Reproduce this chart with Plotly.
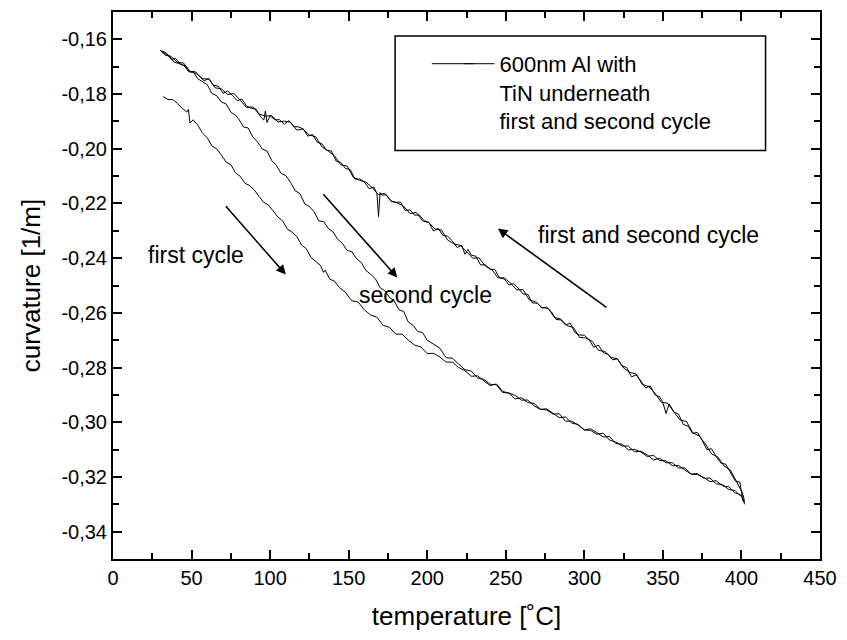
import plotly.graph_objects as go

# Temperature [°C] and curvature [1/m] for each branch of the thermal cycles

# first heating (lower branch on the way up)
heat1_t = [32, 35, 38, 41, 44, 47, 48, 49, 51, 54, 57, 60, 63, 66, 69, 72, 75, 78, 81, 84,
           87, 90, 93, 96, 99, 102, 105, 108, 111, 114, 117, 120, 123, 126, 129, 132, 134,
           135, 138, 141, 144, 148, 152, 156, 160, 164, 168, 172, 176, 180, 184, 188, 192,
           196, 200, 204, 208, 212, 216, 220, 224, 228, 232, 236, 240, 244, 248, 252, 256,
           260, 264, 268, 272, 276, 280, 284, 288, 292, 296, 300, 304, 308, 312, 316, 320,
           324, 328, 332, 336, 340, 344, 348, 352, 356, 360, 364, 368, 372, 376, 380, 384,
           388, 392, 396, 399, 401, 402]
heat1_c = [-0.1809, -0.1820, -0.1820, -0.1834, -0.1852, -0.1866, -0.1856, -0.1906, -0.1894,
           -0.1914, -0.1943, -0.1960, -0.1990, -0.2000, -0.2023, -0.2049, -0.2058, -0.2088,
           -0.2101, -0.2126, -0.2135, -0.2151, -0.2175, -0.2196, -0.2206, -0.2229, -0.2250,
           -0.2264, -0.2294, -0.2305, -0.2321, -0.2352, -0.2365, -0.2397, -0.2410, -0.2426,
           -0.2452, -0.2444, -0.2477, -0.2484, -0.2507, -0.2525, -0.2556, -0.2560, -0.2589,
           -0.2608, -0.2616, -0.2646, -0.2653, -0.2678, -0.2678, -0.2700, -0.2718, -0.2725,
           -0.2749, -0.2748, -0.2761, -0.2780, -0.2780, -0.2800, -0.2811, -0.2832, -0.2830,
           -0.2847, -0.2866, -0.2860, -0.2887, -0.2894, -0.2915, -0.2910, -0.2928, -0.2931,
           -0.2952, -0.2955, -0.2970, -0.2969, -0.2996, -0.2996, -0.3010, -0.3028, -0.3024,
           -0.3038, -0.3054, -0.3052, -0.3078, -0.3080, -0.3101, -0.3099, -0.3109, -0.3125,
           -0.3121, -0.3140, -0.3141, -0.3159, -0.3158, -0.3175, -0.3189, -0.3188, -0.3205,
           -0.3204, -0.3225, -0.3228, -0.3246, -0.3250, -0.3268, -0.3265, -0.3292]

# first cooling (upper branch on the way down)
cool1_t = [401, 399, 396, 393, 390, 387, 384, 381, 378, 375, 372, 369, 366, 363, 360, 357,
           354, 352, 350, 348, 345, 342, 339, 336, 333, 330, 327, 324, 321, 318, 315, 312,
           309, 306, 303, 300, 297, 294, 291, 288, 285, 282, 279, 276, 273, 270, 267, 264,
           261, 258, 255, 252, 249, 246, 243, 240, 237, 234, 231, 228, 226, 224, 222, 219,
           216, 213, 210, 207, 204, 201, 198, 195, 192, 189, 186, 183, 180, 177, 174, 171,
           170, 169, 168, 166, 163, 160, 157, 154, 151, 148, 145, 142, 139, 136, 133, 130,
           127, 124, 121, 118, 115, 112, 109, 106, 103, 100, 98, 97, 96, 94, 91, 88, 85, 82,
           79, 76, 73, 70, 67, 64, 61, 58, 55, 52, 49, 46, 43, 40, 37, 34, 31]
cool1_c = [-0.3290, -0.3219, -0.3214, -0.3182, -0.3153, -0.3150, -0.3126, -0.3097, -0.3100,
           -0.3066, -0.3037, -0.3041, -0.3014, -0.3008, -0.2971, -0.2962, -0.2933, -0.2968,
           -0.2928, -0.2907, -0.2900, -0.2867, -0.2875, -0.2849, -0.2827, -0.2834, -0.2800,
           -0.2794, -0.2768, -0.2772, -0.2752, -0.2745, -0.2718, -0.2726, -0.2698, -0.2682,
           -0.2681, -0.2672, -0.2638, -0.2644, -0.2626, -0.2624, -0.2596, -0.2579, -0.2583,
           -0.2564, -0.2564, -0.2532, -0.2531, -0.2510, -0.2493, -0.2498, -0.2476, -0.2472,
           -0.2441, -0.2442, -0.2424, -0.2425, -0.2393, -0.2389, -0.2368, -0.2386, -0.2353,
           -0.2361, -0.2337, -0.2320, -0.2317, -0.2291, -0.2301, -0.2269, -0.2263, -0.2242,
           -0.2243, -0.2224, -0.2225, -0.2195, -0.2196, -0.2192, -0.2169, -0.2169, -0.2160,
           -0.2248, -0.2165, -0.2140, -0.2146, -0.2121, -0.2111, -0.2111, -0.2076, -0.2072,
           -0.2050, -0.2045, -0.2008, -0.2006, -0.1982, -0.1976, -0.1948, -0.1954, -0.1927,
           -0.1920, -0.1919, -0.1897, -0.1910, -0.1894, -0.1894, -0.1879, -0.1904, -0.1862,
           -0.1895, -0.1884, -0.1855, -0.1852, -0.1844, -0.1818, -0.1824, -0.1805, -0.1789,
           -0.1797, -0.1771, -0.1768, -0.1743, -0.1752, -0.1732, -0.1716, -0.1721, -0.1696,
           -0.1692, -0.1670, -0.1673, -0.1650, -0.1642]

# second heating (middle branch on the way up)
heat2_t = [30, 33, 36, 39, 42, 45, 48, 51, 54, 57, 60, 63, 66, 69, 72, 75, 78, 80, 83, 86,
           89, 92, 95, 98, 101, 104, 107, 110, 113, 116, 119, 122, 125, 128, 131, 134, 137,
           140, 143, 146, 149, 152, 155, 158, 161, 164, 167, 170, 173, 176, 179, 182, 185,
           188, 191, 194, 197, 200, 204, 208, 212, 216, 220, 224, 228, 232, 236, 240, 244,
           248, 252, 256, 260, 264, 268, 272, 276, 280, 284, 288, 292, 296, 300, 304, 308,
           312, 316, 320, 324, 328, 332, 336, 340, 344, 348, 352, 356, 360, 364, 368, 372,
           376, 380, 384, 388, 392, 396, 399, 401, 402]
heat2_c = [-0.1640, -0.1657, -0.1662, -0.1684, -0.1688, -0.1695, -0.1717, -0.1718, -0.1744,
           -0.1755, -0.1766, -0.1798, -0.1806, -0.1829, -0.1836, -0.1866, -0.1878, -0.1891,
           -0.1920, -0.1924, -0.1957, -0.1975, -0.2001, -0.2008, -0.2043, -0.2061, -0.2090,
           -0.2098, -0.2123, -0.2154, -0.2164, -0.2201, -0.2211, -0.2230, -0.2264, -0.2266,
           -0.2291, -0.2304, -0.2331, -0.2346, -0.2372, -0.2376, -0.2402, -0.2416, -0.2445,
           -0.2459, -0.2475, -0.2508, -0.2519, -0.2544, -0.2556, -0.2589, -0.2595, -0.2634,
           -0.2646, -0.2668, -0.2672, -0.2700, -0.2715, -0.2729, -0.2764, -0.2766, -0.2787,
           -0.2808, -0.2813, -0.2838, -0.2843, -0.2861, -0.2863, -0.2891, -0.2893, -0.2902,
           -0.2919, -0.2919, -0.2940, -0.2953, -0.2951, -0.2967, -0.2983, -0.2981, -0.3003,
           -0.3008, -0.3028, -0.3030, -0.3044, -0.3040, -0.3065, -0.3072, -0.3087, -0.3087,
           -0.3108, -0.3106, -0.3119, -0.3138, -0.3132, -0.3148, -0.3148, -0.3167, -0.3167,
           -0.3191, -0.3191, -0.3202, -0.3217, -0.3214, -0.3233, -0.3236, -0.3259, -0.3264,
           -0.3280, -0.3300]

# second cooling (upper branch again)
cool2_t = [401, 397, 393, 389, 385, 381, 377, 373, 369, 365, 361, 357, 353, 349, 345, 341,
           337, 333, 329, 325, 321, 317, 313, 309, 305, 301, 297, 293, 289, 285, 281, 277,
           273, 269, 265, 261, 257, 253, 249, 245, 241, 237, 233, 229, 225, 221, 217, 213,
           209, 205, 201, 197, 193, 189, 185, 181, 177, 173, 169, 165, 161, 157, 153, 149,
           145, 141, 137, 133, 129, 125, 121, 117, 113, 109, 105, 101, 97, 93, 89, 85, 81,
           77, 73, 69, 65, 61, 57, 53, 49, 45, 41, 37, 33, 30]
cool2_c = [-0.3262, -0.3219, -0.3175, -0.3160, -0.3127, -0.3116, -0.3079, -0.3050, -0.3038,
           -0.2997, -0.2992, -0.2962, -0.2930, -0.2927, -0.2894, -0.2869, -0.2863, -0.2823,
           -0.2818, -0.2802, -0.2768, -0.2763, -0.2741, -0.2737, -0.2704, -0.2692, -0.2690,
           -0.2653, -0.2647, -0.2623, -0.2617, -0.2584, -0.2580, -0.2560, -0.2553, -0.2515,
           -0.2516, -0.2491, -0.2472, -0.2472, -0.2441, -0.2429, -0.2399, -0.2400, -0.2376,
           -0.2353, -0.2348, -0.2334, -0.2297, -0.2294, -0.2270, -0.2264, -0.2233, -0.2237,
           -0.2210, -0.2198, -0.2191, -0.2163, -0.2168, -0.2142, -0.2122, -0.2115, -0.2105,
           -0.2063, -0.2059, -0.2026, -0.2008, -0.1993, -0.1956, -0.1950, -0.1928, -0.1932,
           -0.1903, -0.1899, -0.1902, -0.1879, -0.1881, -0.1873, -0.1847, -0.1849, -0.1823,
           -0.1798, -0.1802, -0.1781, -0.1777, -0.1745, -0.1744, -0.1725, -0.1717, -0.1687,
           -0.1684, -0.1663, -0.1652, -0.1640]

y_tickvals = [-0.34, -0.32, -0.30, -0.28, -0.26, -0.24, -0.22, -0.20, -0.18, -0.16]
y_ticktext = ["-0,34", "-0,32", "-0,30", "-0,28", "-0,26", "-0,24", "-0,22", "-0,20",
              "-0,18", "-0,16"]

legend_label = "600nm Al with<br>TiN underneath<br>first and second cycle"
x_title = "temperature [˚C]"
y_title = "curvature [1/m]"

FONT = "Liberation Sans, Arial, sans-serif"

fig = go.Figure()
branches = [(heat1_t, heat1_c, True), (cool1_t, cool1_c, False),
            (heat2_t, heat2_c, False), (cool2_t, cool2_c, False)]
for t, c, show in branches:
    fig.add_trace(go.Scatter(
        x=t, y=c, mode="lines", name=legend_label, showlegend=show,
        line=dict(color="black", width=1),
    ))

axis_common = dict(
    showline=True, linecolor="black", linewidth=2, mirror="ticks",
    ticks="inside", ticklen=9, tickwidth=2, tickcolor="black",
    showgrid=False, zeroline=False,
    tickfont=dict(family=FONT, size=20, color="black"),
)

fig.update_xaxes(
    range=[0, 450], tick0=0, dtick=50,
    minor=dict(ticks="inside", ticklen=6, tickwidth=2, tickcolor="black", dtick=25),
    title=dict(text=x_title, font=dict(family=FONT, size=26, color="black"), standoff=19),
    **axis_common,
)
fig.update_yaxes(
    range=[-0.35, -0.15], tickmode="array", tickvals=y_tickvals, ticktext=y_ticktext,
    minor=dict(ticks="inside", ticklen=6, tickwidth=2, tickcolor="black", dtick=0.01),
    title=dict(text=y_title, font=dict(family=FONT, size=26, color="black"), standoff=13),
    **axis_common,
)

# direction arrows and their labels
arrows = [
    dict(x=110, y=-0.246, ax=71, ay=-0.2205),
    dict(x=181, y=-0.2471, ax=133, ay=-0.2161),
    dict(x=245, y=-0.2292, ax=315, ay=-0.2584),
]
for a in arrows:
    fig.add_annotation(
        x=a["x"], y=a["y"], ax=a["ax"], ay=a["ay"], xref="x", yref="y",
        axref="x", ayref="y", text="", showarrow=True,
        arrowhead=2, arrowsize=1.2, arrowwidth=1.6, arrowcolor="black",
    )

labels = [
    dict(x=53, y=-0.2387, text="first cycle"),
    dict(x=199, y=-0.2533, text="second cycle"),
    dict(x=341, y=-0.2314, text="first and second cycle"),
]
for lb in labels:
    fig.add_annotation(
        x=lb["x"], y=lb["y"], xref="x", yref="y", text=lb["text"], showarrow=False,
        font=dict(family=FONT, size=23, color="black"),
    )

# legend frame and the longer lead-in of the legend's line sample
fig.add_shape(type="rect", xref="paper", yref="paper",
              x0=0.399, x1=0.923, y0=0.747, y1=0.956,
              line=dict(color="black", width=1.5), fillcolor="rgba(0,0,0,0)")
fig.add_shape(type="line", xref="paper", yref="paper",
              x0=0.451, x1=0.51, y0=0.9055, y1=0.9055,
              line=dict(color="black", width=1))

fig.update_layout(
    width=847, height=640,
    margin=dict(l=113, r=20, t=10, b=81),
    paper_bgcolor="white", plot_bgcolor="white",
    font=dict(family=FONT, color="black"),
    showlegend=True,
    legend=dict(
        x=0.49, y=0.9435, xanchor="left", yanchor="top", valign="top",
        bgcolor="rgba(0,0,0,0)", borderwidth=0,
        font=dict(family=FONT, size=22, color="black"),
        tracegroupgap=0,
    ),
)

fig.write_html("out.html")
